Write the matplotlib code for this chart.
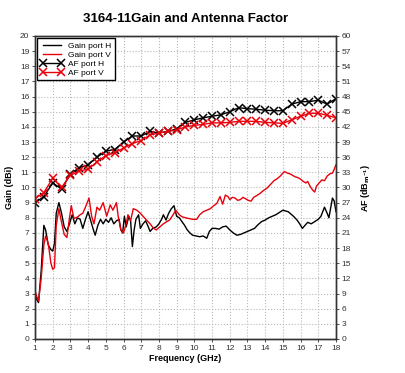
import matplotlib
matplotlib.use('Agg')
import matplotlib.pyplot as plt

plt.rcParams['font.family'] = ['Liberation Sans', 'DejaVu Sans']

# Gain port H (black line), frequency in GHz / gain in dBi
freq_gain_h = [1.0, 1.1, 1.2, 1.35, 1.5, 1.6, 1.75, 1.9, 2.0, 2.1, 2.2, 2.35, 2.5, 2.65, 2.8, 2.95,
               3.1, 3.25, 3.4, 3.55, 3.7, 3.85, 4.0, 4.15, 4.3, 4.4, 4.55, 4.7, 4.85, 5.0, 5.15, 5.3,
               5.45, 5.6, 5.75, 5.85, 5.95, 6.05, 6.15, 6.3, 6.4, 6.5, 6.6, 6.7, 6.85, 6.95, 7.1, 7.25,
               7.4, 7.5, 7.65, 7.85, 8.0, 8.15, 8.25, 8.4, 8.55, 8.7, 8.85, 9.0, 9.15, 9.3, 9.45, 9.6,
               9.75, 9.9, 10.1, 10.3, 10.5, 10.7, 10.85, 11.0, 11.2, 11.4, 11.6, 11.8, 12.0, 12.2, 12.4,
               12.6, 12.8, 13.0, 13.2, 13.4, 13.6, 13.8, 14.0, 14.2, 14.4, 14.6, 14.8, 15.0, 15.15, 15.3,
               15.45, 15.6, 15.8, 15.95, 16.1, 16.25, 16.4, 16.6, 16.8, 17.0, 17.15, 17.35, 17.5, 17.6,
               17.8, 17.9, 18.0]
gain_h = [3.0, 2.6, 2.4, 4.5, 7.5, 7.2, 6.2, 5.9, 5.8, 6.3, 8.3, 9.0, 8.3, 7.4, 7.1, 7.6,
          8.2, 7.6, 8.0, 7.9, 7.3, 7.9, 8.4, 7.8, 7.2, 6.85, 7.5, 7.9, 7.6, 7.9, 7.7, 8.0,
          7.6, 7.8, 7.9, 7.2, 7.0, 8.1, 7.4, 8.1, 7.8, 6.1, 7.2, 7.9, 8.2, 7.3, 7.6, 7.8,
          7.4, 7.1, 7.3, 7.4, 7.6, 7.9, 8.2, 7.85, 8.3, 8.6, 8.8, 8.1, 8.0, 7.75, 7.5, 7.2,
          7.0, 6.85, 6.8, 6.75, 6.8, 6.65, 7.1, 7.3, 7.3, 7.25, 7.4, 7.45, 7.2, 7.0, 6.85,
          6.9, 7.0, 7.1, 7.2, 7.3, 7.55, 7.75, 7.85, 8.0, 8.1, 8.2, 8.35, 8.5, 8.45, 8.4,
          8.25, 8.1, 7.85, 7.6, 7.3, 7.5, 7.7, 7.6, 7.75, 7.9, 8.1, 8.7, 8.3, 8.0,
          9.3, 9.1, 8.4]

# Gain port V (red line)
freq_gain_v = [1.0, 1.1, 1.2, 1.35, 1.5, 1.6, 1.75, 1.9, 2.0, 2.1, 2.2, 2.35, 2.5, 2.65, 2.8, 2.95,
               3.05, 3.2, 3.4, 3.55, 3.7, 3.85, 4.05, 4.2, 4.33, 4.5, 4.65, 4.85, 5.05, 5.25, 5.4, 5.6,
               5.7, 5.85, 6.0, 6.15, 6.25, 6.4, 6.55, 6.75, 6.95, 7.1, 7.3, 7.5, 7.7, 7.85, 8.05, 8.25,
               8.45, 8.6, 8.8, 8.95, 9.15, 9.3, 9.5, 9.7, 9.9, 10.13, 10.3, 10.5, 10.7, 10.9, 11.1,
               11.27, 11.45, 11.6, 11.75, 11.9, 12.0, 12.15, 12.3, 12.45, 12.6, 12.75, 12.9, 13.05,
               13.2, 13.35, 13.5, 13.7, 13.9, 14.1, 14.3, 14.5, 14.7, 14.85, 15.0, 15.1, 15.25, 15.4,
               15.55, 15.7, 15.85, 16.0, 16.15, 16.3, 16.4, 16.55, 16.7, 16.8, 16.9, 17.05, 17.2,
               17.35, 17.5, 17.65, 17.8, 17.9, 18.0]
gain_v = [3.2, 2.8, 2.5, 4.0, 6.2, 6.8, 6.3, 5.0, 4.6, 4.7, 7.5, 8.6, 7.7, 6.9, 6.7, 8.0,
          8.8, 7.95, 8.05, 8.2, 8.3, 8.7, 9.3, 8.1, 7.6, 8.7, 8.5, 9.0, 8.1, 8.85, 8.5, 9.0,
          8.1, 7.2, 7.0, 7.6, 8.2, 7.8, 8.6, 8.5, 8.3, 8.1, 7.85, 7.6, 7.3, 7.2, 7.4, 7.6,
          7.75, 7.85, 8.2, 8.5, 8.2, 8.07, 8.0, 7.95, 7.9, 7.9, 8.2, 8.4, 8.5, 8.6, 8.8,
          8.95, 9.4, 8.9, 9.5, 9.4, 9.2, 9.35, 9.3, 9.15, 9.2, 9.35, 9.25, 9.15,
          9.1, 9.35, 9.45, 9.6, 9.8, 9.95, 10.2, 10.45, 10.6, 10.75, 10.95, 11.05, 10.95, 10.9,
          10.8, 10.7, 10.65, 10.55, 10.4, 10.3, 10.4, 10.05, 9.8, 9.7, 10.1, 10.3, 10.5,
          10.45, 10.75, 10.9, 10.95, 11.2, 11.5]

# Antenna factor (dB/m), right axis
freq_af = [1.0, 1.5, 2.0, 2.5, 3.0, 3.5, 4.0, 4.5, 5.0, 5.5, 6.0, 6.5, 7.0, 7.5, 8.0, 8.5, 9.0, 9.5,
           10.0, 10.5, 11.0, 11.5, 12.0, 12.5, 13.0, 13.5, 14.0, 14.5, 15.0, 15.5, 16.0, 16.5, 17.0,
           17.5, 18.0]
af_h = [27.0, 28.2, 30.9, 29.7, 32.7, 33.9, 34.5, 36.0, 37.2, 37.5, 39.0, 40.2, 40.2, 41.1, 40.8,
        41.1, 41.6, 42.9, 43.4, 43.8, 44.1, 44.4, 45.0, 45.8, 45.6, 45.5, 45.3, 45.2, 45.2, 46.5,
        47.0, 47.0, 47.3, 46.5, 47.6]
af_v = [27.8, 29.0, 31.8, 30.0, 32.4, 33.3, 33.6, 35.1, 36.3, 36.9, 37.8, 38.7, 39.3, 40.4, 40.8,
        41.1, 41.4, 42.0, 42.3, 42.5, 42.8, 42.8, 42.9, 43.1, 43.1, 43.1, 42.9, 42.8, 42.7, 43.4,
        44.1, 44.7, 44.7, 44.3, 43.8]

fig = plt.figure(figsize=(4.05, 3.73), dpi=100)
ax = fig.add_axes([0.0864, 0.0912, 0.7432, 0.8123])
ax2 = ax.twinx()

l1, = ax.plot(freq_gain_h, gain_h, color='black', lw=1.0, label='Gain port H')
l2, = ax.plot(freq_gain_v, gain_v, color='#e8000b', lw=1.0, label='Gain port V')
l3, = ax2.plot(freq_af, af_h, color='black', lw=1.0, marker='x', ms=5.5, mew=1.1, label='AF port H')
l4, = ax2.plot(freq_af, af_v, color='#e8000b', lw=1.0, marker='x', ms=5.5, mew=1.1, label='AF port V')

ax.set_xlim(1, 18)
ax.set_ylim(0, 20)
ax2.set_ylim(0, 60)
ax.set_xticks(range(1, 19))
ax.set_yticks(range(0, 21))
ax2.set_yticks(range(0, 61, 3))
ax.grid(True, color='#b8b8b8', linestyle=':', linewidth=0.8)
for a in (ax, ax2):
    a.tick_params(labelsize=6, length=2, width=0.6, colors='#333333', pad=2)
    for s in a.spines.values():
        s.set_color('#333333')
        s.set_linewidth(1.0)

ax.set_xlabel('Frequency (GHz)', fontsize=6.5, fontweight='bold', labelpad=2)
ax.set_ylabel('Gain (dBi)', fontsize=6.5, fontweight='bold', labelpad=4)
ax2.set_ylabel('AF (dB$_{\\mathbf{m^{-1}}}$)', fontsize=6.5, fontweight='bold', rotation=90, labelpad=6)
fig.suptitle('3164-11Gain and Antenna Factor', x=0.459, y=0.965, fontsize=9.5, fontweight='bold')

leg = ax.legend(handles=[l1, l2, l3, l4], loc='upper left', fontsize=6, numpoints=2,
                fancybox=False, framealpha=1, edgecolor='black', handlelength=2.7,
                borderpad=0.4, labelspacing=0.15, borderaxespad=0.3, handletextpad=0.6)
leg.get_frame().set_linewidth(1.0)

plt.savefig('out.png', dpi=100)
plt.close()
